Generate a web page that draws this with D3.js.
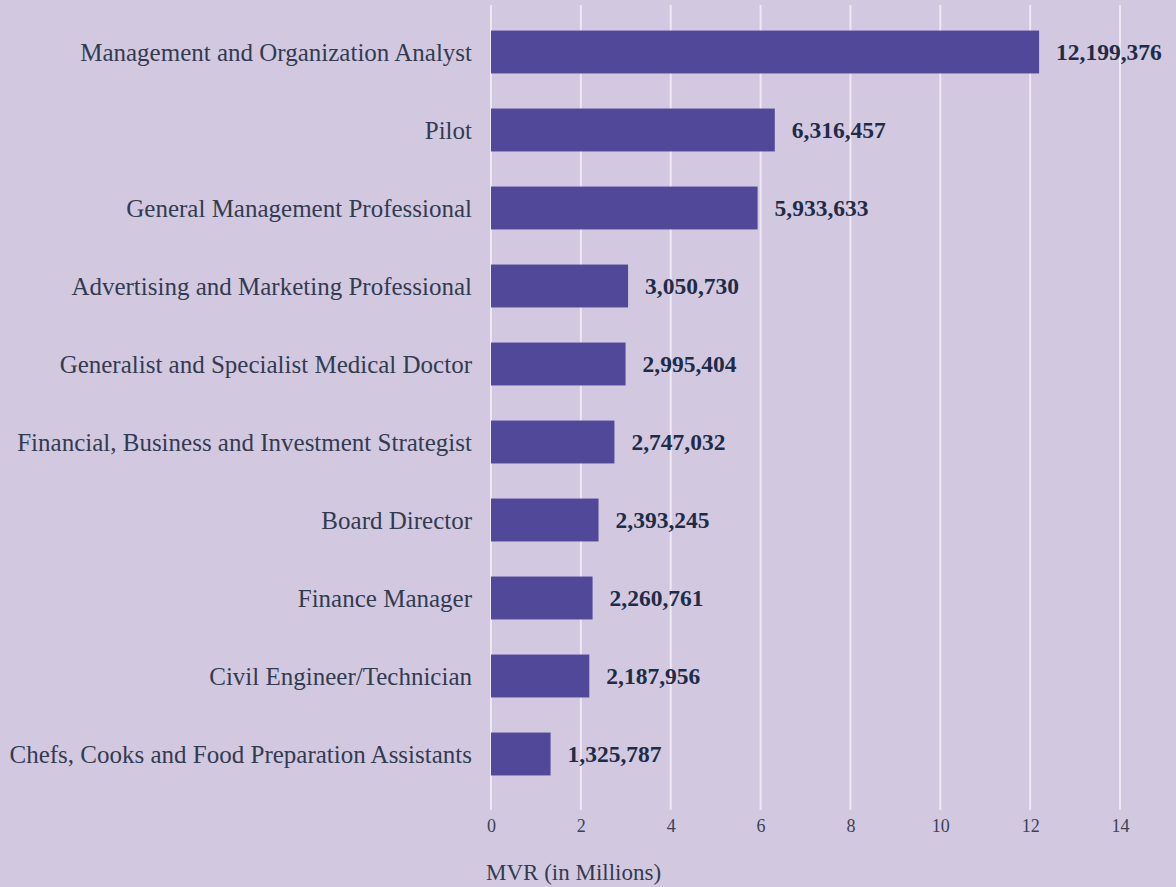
<!DOCTYPE html>
<html>
<head>
<meta charset="utf-8">
<script src="https://cdn.jsdelivr.net/npm/d3@7"></script>
<style>
  html, body { margin: 0; padding: 0; background: #d2c9e1; }
  svg { display: block; }
</style>
</head>
<body>
<svg width="1176" height="887"></svg>
<script>
// occupations, top to bottom
var occupations = [
	"Management and Organization Analyst",
	"Pilot",
	"General Management Professional",
	"Advertising and Marketing Professional",
	"Generalist and Specialist Medical Doctor",
	"Financial, Business and Investment Strategist",
	"Board Director",
	"Finance Manager",
	"Civil Engineer/Technician",
	"Chefs, Cooks and Food Preparation Assistants"
];
// MVR values
var values = [12199376, 6316457, 5933633, 3050730, 2995404, 2747032, 2393245, 2260761, 2187956, 1325787];
var xTicks = [0, 2, 4, 6, 8, 10, 12, 14];

function createChart() {
	var svg = d3.select("svg"),
	margin = {top: 13, right: 56, bottom: 95, left: 491},
	g = svg.append("g").attr("transform", "translate(" + margin.left + "," + margin.top + ")");

	var data = occupations.map(function(d, i) { return {name: d, value: values[i]}; });

	// x in millions
	var x = d3.scaleLinear()
		.domain([0, 14])
		.range([0, 629]);
	var y = d3.scaleBand()
		.domain(occupations)
		.range([0, 780])
		.paddingInner(0.45)
		.paddingOuter(0.225);

	var fmt = d3.format(",");

	// gridlines
	g.selectAll("line.grid")
		.data(xTicks).enter().append("line")
		.attr("class", "grid")
		.attr("x1", function(d) { return x(d); })
		.attr("x2", function(d) { return x(d); })
		.attr("y1", -8)
		.attr("y2", 797)
		.style("stroke", "#ede8f3")
		.style("stroke-width", 2);

	// tick labels
	var xAxis = g.append("g")
		.attr("transform", "translate(0,806)")
		.call(d3.axisBottom(x).tickValues(xTicks).tickSize(0).tickPadding(0).tickFormat(d3.format("d")));
	xAxis.select(".domain").remove();
	xAxis.selectAll("text")
		.attr("dy", "0.71em")
		.style("font-family", "'Liberation Serif', serif")
		.style("font-size", "18px")
		.style("fill", "#3b4256");

	// axis title
	g.append("text")
		.attr("x", -5)
		.attr("y", 859)
		.attr("dy", "0.35em")
		.style("font-family", "'Liberation Serif', serif")
		.style("font-size", "23px")
		.style("fill", "#323b50")
		.text("MVR (in Millions)");

	// category labels
	g.selectAll("text.cat")
		.data(data).enter().append("text")
		.attr("class", "cat")
		.attr("x", -19)
		.attr("y", function(d) { return y(d.name) + y.bandwidth() / 2; })
		.attr("dy", "0.35em")
		.attr("text-anchor", "end")
		.style("font-family", "'Liberation Serif', serif")
		.style("font-size", "25px")
		.style("fill", "#323b50")
		.text(function(d) { return d.name; });

	// bars
	g.selectAll("rect.bar")
		.data(data).enter().append("rect")
		.attr("class", "bar")
		.attr("x", 0)
		.attr("y", function(d) { return y(d.name); })
		.attr("width", function(d) { return x(d.value / 1e6); })
		.attr("height", y.bandwidth())
		.attr("fill", "#52489a");

	// value labels
	g.selectAll("text.val")
		.data(data).enter().append("text")
		.attr("class", "val")
		.attr("x", function(d) { return x(d.value / 1e6) + 17; })
		.attr("y", function(d) { return y(d.name) + y.bandwidth() / 2; })
		.attr("dy", "0.35em")
		.style("font-family", "'Liberation Serif', serif")
		.style("font-weight", "bold")
		.style("font-size", "23.5px")
		.style("fill", "#1f2c48")
		.text(function(d) { return fmt(d.value); });
}
createChart();
</script>
</body>
</html>
